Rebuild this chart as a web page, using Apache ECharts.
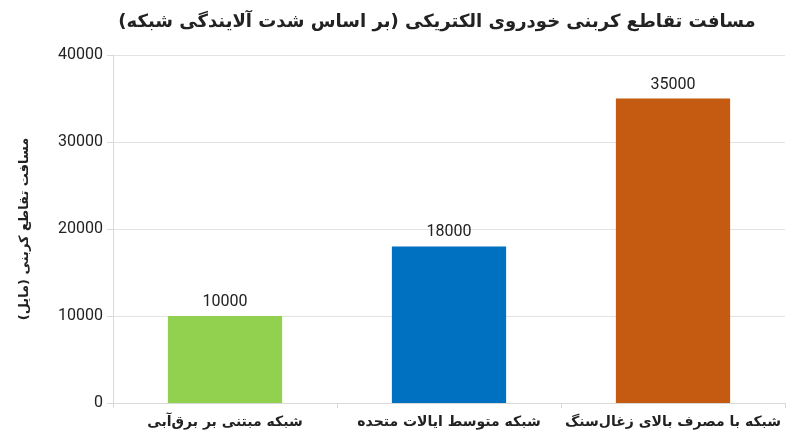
<!DOCTYPE html>
<html>
<head>
<meta charset="utf-8">
<script src="https://cdn.jsdelivr.net/npm/echarts@6/dist/echarts.min.js"></script>
<style>
html,body{margin:0;padding:0;background:#fff;}
#chart{width:800px;height:447px;}
</style>
</head>
<body>
<div id="chart"></div>
<script>
// داده‌های نمودار
const categories = ["شبکه مبتنی بر برق‌آبی", "شبکه متوسط ایالات متحده", "شبکه با مصرف بالای زغال‌سنگ"];
const values = [10000, 18000, 35000];
const barColors = ["#92d050", "#0070c0", "#c55a11"];
const yTicks = [0, 40000, 10000]; // min, max, interval

const font = "'DejaVu Sans', 'Noto Sans', sans-serif";

const myChart = echarts.init(document.getElementById("chart"));

myChart.setOption({
    animation: false,
    title: {
        text: "مسافت تقاطع کربنی خودروی الکتریکی (بر اساس شدت آلایندگی شبکه)",
        left: 432,
        textAlign: "center",
        top: 8,
        textStyle: {fontFamily: font, fontSize: 18, fontWeight: "bold", color: "#222"}
    },
    grid: {left: 113, right: 15, top: 55, bottom: 44},
    xAxis: {
        type: "category",
        data: categories,
        axisLine: {lineStyle: {color: "#d9d9d9"}},
        axisTick: {show: true, length: 5, lineStyle: {color: "#d9d9d9"}},
        axisLabel: {interval: 0, fontFamily: font, fontSize: 14, fontWeight: "bold", color: "#222", margin: 12}
    },
    yAxis: {
        type: "value",
        min: yTicks[0],
        max: yTicks[1],
        interval: yTicks[2],
        name: "مسافت تقاطع کربنی (مایل)",
        nameLocation: "middle",
        nameGap: 82,
        nameRotate: 90,
        nameTextStyle: {fontFamily: font, fontSize: 13, fontWeight: "bold", color: "#222"},
        axisLine: {show: true, lineStyle: {color: "#d9d9d9"}},
        axisTick: {show: true, length: 6, lineStyle: {color: "#d9d9d9"}},
        splitLine: {lineStyle: {color: "#e3e3e3"}},
        axisLabel: {
            formatter: v => String(v),
            fontFamily: "Roboto, sans-serif", fontSize: 16, color: "#222", margin: 10
        }
    },
    series: [{
        type: "bar",
        barWidth: "51%",
        data: values.map((v, i) => ({value: v, itemStyle: {color: barColors[i]}})),
        label: {
            show: true,
            position: "top",
            distance: 6,
            fontFamily: "Roboto, sans-serif",
            fontSize: 16,
            color: "#222"
        }
    }]
});
</script>
</body>
</html>
